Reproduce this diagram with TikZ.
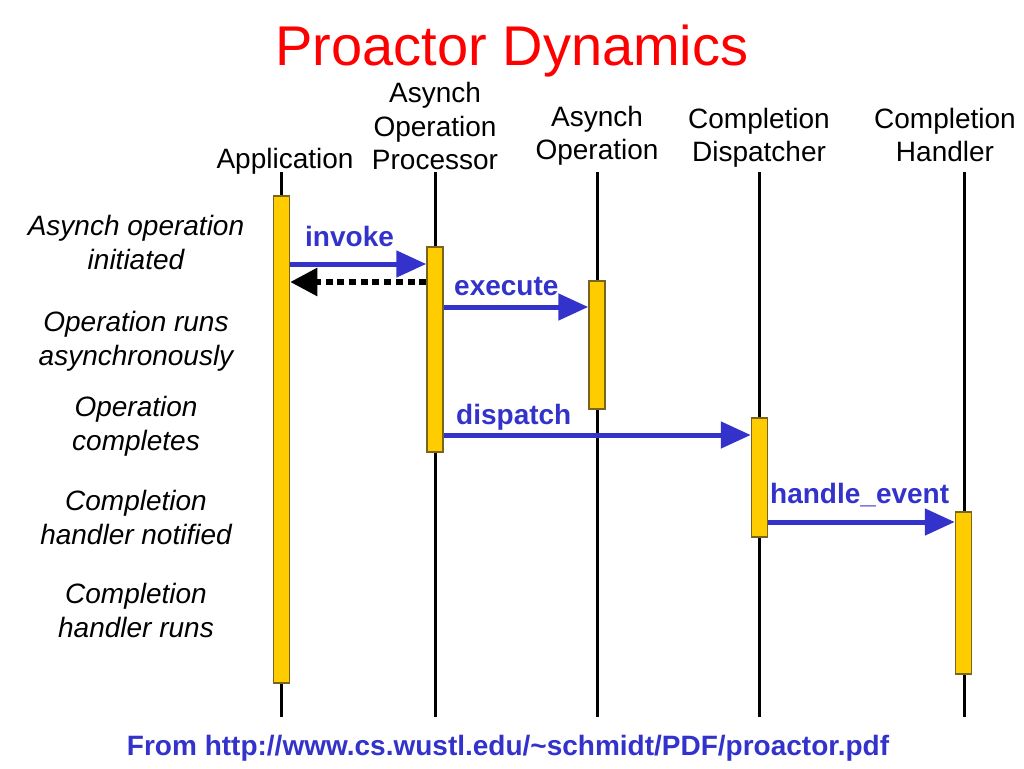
\documentclass[tikz,border=0pt]{standalone}
\usepackage{fontspec}
\setmainfont{Liberation Sans}
\usetikzlibrary{arrows.meta,positioning}
\definecolor{msgblue}{RGB}{51,51,204}
\definecolor{barfill}{RGB}{255,204,0}
\definecolor{barline}{RGB}{120,100,30}

\begin{document}
\begin{tikzpicture}[x=1pt, y=-1pt,
  >={Triangle[length=30pt,width=26pt]},
  actor/.style={anchor=south, align=center, inner sep=0pt, text depth=0pt,
    font=\fontsize{28}{33.5}\selectfont},
  phase/.style={anchor=south, align=center, inner sep=0pt, text depth=0pt,
    font=\fontsize{28}{34}\selectfont\itshape},
  lifeline/.style={line width=3pt},
  bar/.style={draw=barline, fill=barfill, line width=1.5pt, minimum width=16pt, inner sep=0pt},
  msg/.style={->, draw=msgblue, line width=5pt},
  reply/.style={-{Triangle[length=27pt,width=27pt]}, line width=5.5pt,
    dash pattern=on 7pt off 4.7pt},
  msglabel/.style={anchor=base west, inner sep=0pt, text=msgblue,
    font=\fontsize{28}{34}\selectfont\bfseries}]
  \useasboundingbox (0,0) rectangle (1024,768);

  \node[anchor=base, inner sep=0pt, text=red, font=\fontsize{56}{60}\selectfont] (title) at (512,66) {Proactor Dynamics};

  % participants
  \node[actor] (app) at (285,169) {Application};
  \node[actor] (proc) at (435,170) {Asynch\\Operation\\Processor};
  \node[actor] (asop) at (597,160) {Asynch\\Operation};
  \node[actor] (disp) at (759,162) {Completion\\Dispatcher};
  \node[actor] (hand) at (945,162) {Completion\\Handler};

  % lifelines
  \foreach \n/\x in {app/281,proc/435,asop/597,disp/759,hand/964} {
    \coordinate (\n top) at (\x,172);
    \coordinate (\n bot) at (\x,717);
    \draw[lifeline] (\n top) -- (\n bot);
  }

  % activations
  \node[bar, minimum height=487pt] (appbar) at (281.5,439.5) {};
  \node[bar, minimum height=205pt] (procbar) at (435,349.5) {};
  \node[bar, minimum height=128pt] (asopbar) at (597,345) {};
  \node[bar, minimum height=119pt] (dispbar) at (759.5,477.5) {};
  \node[bar, minimum height=162pt] (handbar) at (963.5,593) {};

  % phases
  \node[phase] (p1) at (136,270) {Asynch operation\\initiated};
  \node[phase] (p2) at (136,366) {Operation runs\\asynchronously};
  \node[phase] (p3) at (136,451) {Operation\\completes};
  \node[phase] (p4) at (136,545) {Completion\\handler notified};
  \node[phase] (p5) at (136,638) {Completion\\handler runs};

  % messages
  \coordinate (yinv) at (0,264);
  \coordinate (yret) at (0,282);
  \coordinate (yexe) at (0,307);
  \coordinate (ydis) at (0,435);
  \coordinate (yhan) at (0,522);
  \draw[msg] (appbar.east |- yinv) -- (procbar.west |- yinv);
  \draw[reply] (procbar.west |- yret) -- (appbar.east |- yret);
  \draw[msg] (procbar.east |- yexe) -- (asopbar.west |- yexe);
  \draw[msg] (procbar.east |- ydis) -- (dispbar.west |- ydis);
  \draw[msg] (dispbar.east |- yhan) -- (handbar.west |- yhan);
  \node[msglabel] (invoke) at (305,246) {invoke};
  \node[msglabel] (execute) at (454,295) {execute};
  \node[msglabel] (dispatch) at (456,424) {dispatch};
  \node[msglabel] (handle) at (770,503) {handle\_event};

  \node[anchor=base, inner sep=0pt, text=msgblue, font=\fontsize{28}{34}\selectfont\bfseries] (src)
    at (508,755) {From http://www.cs.wustl.edu/\textasciitilde schmidt/PDF/proactor.pdf};
\end{tikzpicture}
\end{document}
